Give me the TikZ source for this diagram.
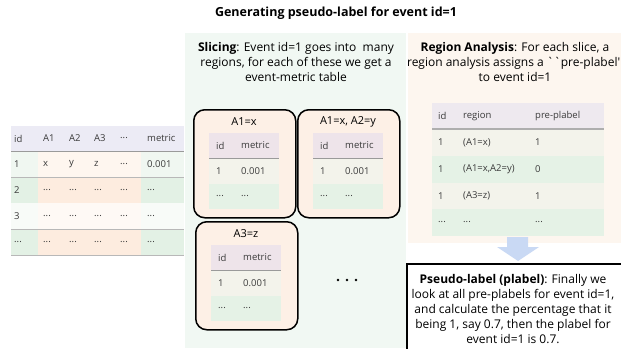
\documentclass[tikz,border=0pt]{standalone}
\usepackage{fontspec}
\setmainfont{Open Sans}
\newfontfamily\plainfont{Open Sans}
\definecolor{mintbg}{HTML}{F1F8F3}
\definecolor{peachbg}{HTML}{FDF6EF}
\definecolor{boxfill}{HTML}{FDF0E6}
\definecolor{hdrL}{HTML}{ECEBF5}
\definecolor{hdrB}{HTML}{EEE4EA}
\definecolor{hdrR}{HTML}{EEE9EF}
\definecolor{grL}{HTML}{F0F7F1}
\definecolor{grLL}{HTML}{F8FBF8}
\definecolor{grD}{HTML}{E3F1E5}
\definecolor{pcL}{HTML}{FEF6EF}
\definecolor{pcLL}{HTML}{FEF9F5}
\definecolor{pcD}{HTML}{FDECDF}
\definecolor{rowL}{HTML}{F3F3EB}
\definecolor{rowD}{HTML}{E5F2E6}
\definecolor{txt}{HTML}{3A3A3A}
\definecolor{arrowblue}{HTML}{C9D9F4}
\definecolor{rulegray}{HTML}{9A9A9A}
\newcommand\mydots{...}
\tikzset{
  cell/.style={anchor=west, inner sep=0pt, text=txt, font=\fontsize{9.5}{11}\selectfont},
  ptext/.style={align=center, inner sep=0pt, font=\fontsize{12}{15}\selectfont},
  slicebox/.style={draw, line width=1.5pt, rounded corners=11pt, fill=boxfill,
    minimum width=102pt, minimum height=108pt, anchor=north west, inner sep=0pt},
  hrule/.style={draw=rulegray, line width=1pt},
}
\newcommand\ltrow[8]{%
  \node[cell] (#1a) at (14,#2) {#3};
  \node[cell] (#1b) at (43,#2) {#4};
  \node[cell] (#1c) at (69,#2) {#5};
  \node[cell] (#1d) at (94,#2) {#6};
  \node[cell] (#1e) at (120,#2) {#7};
  \node[cell] (#1f) at (147,#2) {#8};}
\newcommand\rtrow[5]{%
  \node[cell] (#1a) at (438,#2) {#3};
  \node[cell] (#1b) at (463,#2) {#4};
  \node[cell] (#1c) at (535,#2) {#5};}
\newcommand\mybox[4]{%
  \begin{scope}[shift={(#2,#3)}]
    \node[slicebox] (#1) at (0,0) {};
    \node[inner sep=0pt, font=\fontsize{11}{13}\selectfont] (#1t) at (51,13) {#4};
    \fill[hdrB] (16,24) rectangle (86,49);
    \fill[rowL] (16,49) rectangle (86,75);
    \fill[rowD] (16,75) rectangle (86,100);
    \draw[hrule] (16,49) -- (86,49);
    \node[cell] (#1ha) at (23,36.5) {id};
    \node[cell] (#1hb) at (48,36.5) {metric};
    \node[cell] (#1ra) at (23,62) {1};
    \node[cell] (#1rb) at (48,62) {0.001};
    \node[cell] (#1sa) at (23,87.5) {\mydots};
    \node[cell] (#1sb) at (48,87.5) {\mydots};
  \end{scope}}
\begin{document}
\begin{tikzpicture}[x=1pt, y=-1pt]
\useasboundingbox (0,0) rectangle (621,348);
\fill[white] (0,0) rectangle (621,348);

% title
\node[inner sep=0pt, font=\bfseries\fontsize{12.5}{15}\selectfont] (title) at (336,13) {Generating pseudo-label for event id=1};

% panels
\fill[mintbg] (185,33) rectangle (406,348);
\fill[peachbg] (408,33) rectangle (621,243);

% left table
\fill[hdrL] (11,126) rectangle (184,151);
\foreach \i/\g/\p in {0/grL/pcL, 1/grD/pcD, 2/grLL/pcLL, 3/grD/pcD} {
  \fill[\g] (11,{151+26*\i}) rectangle (38,{177+26*\i});
  \fill[\p] (38,{151+26*\i}) rectangle (141,{177+26*\i});
  \fill[\g] (141,{151+26*\i}) rectangle (184,{177+26*\i});
}
\draw[hrule] (11,151) -- (184,151);
\draw[draw=rulegray!70, line width=0.7pt] (11,177) -- (184,177);
\draw[draw=rulegray!70, line width=0.7pt] (11,229) -- (184,229);
\draw[draw=rulegray!70, line width=0.7pt] (11,255) -- (184,255);
\ltrow{lh}{138.5}{id}{A1}{A2}{A3}{\mydots}{metric}
\ltrow{l1}{164}{1}{x}{y}{z}{\mydots}{0.001}
\ltrow{l2}{190}{2}{\mydots}{\mydots}{\mydots}{\mydots}{\mydots}
\ltrow{l3}{216}{3}{\mydots}{\mydots}{\mydots}{\mydots}{\mydots}
\ltrow{l4}{242}{\mydots}{\mydots}{\mydots}{\mydots}{\mydots}{\mydots}

% slicing panel
\node[ptext] (slicetxt) at (296,62) {\textbf{Slicing}: Event id=1 goes into~ many\\regions, for each of these we get a\\event-metric table};
\mybox{b1}{193}{109}{A1=x}
\mybox{b2}{297}{109}{A1=x, A2=y}
\mybox{b3}{195}{221}{A3=z}
\foreach \dx in {-9,0,9} \fill (347+\dx,280) circle (1.3);

% region analysis panel
\node[ptext] (regtxt) at (515,62) {\textbf{Region Analysis}: For each slice, a\\region analysis assigns a {\plainfont ``}pre-plabel{\plainfont ''}\\to event id=1};
\fill[hdrR] (432,103) rectangle (604,129);
\foreach \i/\c in {0/rowL, 1/rowD, 2/rowL, 3/rowD} {
  \fill[\c] (432,{129+26.75*\i}) rectangle (604,{155.75+26.75*\i});
}
\draw[draw=rulegray!80, line width=1.3pt] (432,129) -- (604,129);
\rtrow{rh}{116}{id}{region}{pre-plabel}
\rtrow{r1}{142.5}{1}{(A1=x)}{1}
\rtrow{r2}{169}{1}{(A1=x,A2=y)}{0}
\rtrow{r3}{196}{1}{(A3=z)}{1}
\rtrow{r4}{222.5}{\mydots}{\mydots}{\mydots}

% arrow
\fill[arrowblue] (507,237) -- (528,237) -- (528,247) -- (539,247) -- (518,261) -- (497,247) -- (507,247) -- cycle;

% pseudo-label box
\node[draw, line width=1.5pt, fill=white, anchor=north west, minimum width=220pt, minimum height=92pt, inner sep=0pt] (pbox) at (406,263) {};
\node[ptext] (ptxt) at (513,309) {\textbf{Pseudo-label (plabel)}: Finally we\\look at all pre-plabels for event id=1,\\and calculate the percentage that it\\being 1, say 0.7, then the plabel for\\event id=1 is 0.7.};
\end{tikzpicture}
\end{document}
